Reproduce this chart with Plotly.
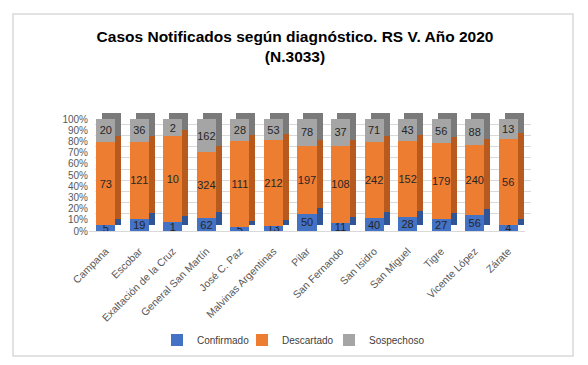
import plotly.graph_objects as go

categories = ["Campana", "Escobar", "Exaltación de la Cruz", "General San Martín",
              "José C. Paz", "Malvinas Argentinas", "Pilar", "San Fernando",
              "San Isidro", "San Miguel", "Tigre", "Vicente López", "Zárate"]
confirmado = [5, 19, 1, 62, 5, 13, 50, 11, 40, 28, 27, 56, 4]
descartado = [73, 121, 10, 324, 111, 212, 197, 108, 242, 152, 179, 240, 56]
sospechoso = [20, 36, 2, 162, 28, 53, 78, 37, 71, 43, 56, 88, 13]

series = [
    ("Confirmado", confirmado, "#4472C4", "#2F5597"),
    ("Descartado", descartado, "#ED7D31", "#B85A1E"),
    ("Sospechoso", sospechoso, "#A5A5A5", "#7A7A7A"),
]

# page body has an 8px margin; the figure fills the rest of the 588x365 window
OFF = 8
W, H = 588 - OFF, 365 - OFF
def px(x):
    return (x - OFF) / W
def py(y):
    return (H - (y - OFF)) / H

FONT = "Liberation Sans"
fig = go.Figure()

# back (depth) copy for pseudo-3D effect
for name, vals, col, dark in series:
    fig.add_trace(go.Bar(x=categories, y=vals, name=name, marker_color=dark,
                         marker_line_width=0, showlegend=False, hoverinfo="skip",
                         xaxis="x", yaxis="y"))
# front faces
legend_ids = ["legend", "legend2", "legend3"]
for (name, vals, col, dark), lg in zip(series, legend_ids):
    fig.add_trace(go.Bar(x=categories, y=vals, name=name, marker_color=col,
                         marker_line_width=0, text=vals, texttemplate="%{text}",
                         textposition="inside", insidetextanchor="middle",
                         textangle=0, constraintext="none",
                         textfont=dict(family=FONT, size=11, color="#262626"),
                         xaxis="x2", yaxis="y2", legend=lg))

dx, dy = 6, 6
fx0, fx1 = 89, 525
fy0, fy1 = 231, 119

legend_lefts = [157, 242, 329]
legend_style = dict(orientation="h", yanchor="middle", y=py(340), xanchor="left",
                    font=dict(family=FONT, size=10, color="#404040"),
                    itemwidth=30, bgcolor="rgba(0,0,0,0)")

fig.update_layout(
    width=W, height=H,
    margin=dict(l=0, r=0, t=0, b=0, autoexpand=False),
    paper_bgcolor="white", plot_bgcolor="rgba(0,0,0,0)",
    barmode="stack", barnorm="percent", bargap=0.43,
    font=dict(family=FONT, color="#595959"),
    title=dict(text="<b>Casos Notificados según diagnóstico. RS V. Año 2020<br>(N.3033)</b>",
               x=px(295), xanchor="center", y=py(42), yanchor="middle",
               font=dict(family=FONT, size=15.5, color="#000000")),
    xaxis=dict(domain=[px(fx0 + dx), px(fx1 + dx)], type="category",
               showticklabels=False, showgrid=False, zeroline=False, showline=False,
               range=[-0.5, 12.5], automargin=False),
    yaxis=dict(domain=[py(fy0 - dy), py(fy1 - dy)], range=[0, 100], dtick=10,
               showticklabels=False, showgrid=True, gridcolor="#D9D9D9",
               gridwidth=1, zeroline=False, showline=False, automargin=False),
    xaxis2=dict(domain=[px(fx0), px(fx1)], type="category", anchor="y2",
                range=[-0.5, 12.5], tickangle=-45, showgrid=False,
                tickfont=dict(family=FONT, size=10.5, color="#595959"),
                ticklabelstandoff=9,
                showline=True, linecolor="#D9D9D9", ticks="", automargin=False),
    yaxis2=dict(domain=[py(fy0), py(fy1)], anchor="x2", range=[0, 100], dtick=10,
                ticksuffix="%", showgrid=False, zeroline=False, automargin=False,
                tickfont=dict(family=FONT, size=10, color="#595959")),
    legend=dict(x=px(legend_lefts[0]), **legend_style),
    legend2=dict(x=px(legend_lefts[1]), **legend_style),
    legend3=dict(x=px(legend_lefts[2]), **legend_style),
    shapes=[dict(type="rect", xref="paper", yref="paper",
                 x0=px(13), x1=px(573), y0=py(356), y1=py(14),
                 line=dict(color="#D9D9D9", width=1.5), layer="below")],
)

fig.write_html("out.html")
